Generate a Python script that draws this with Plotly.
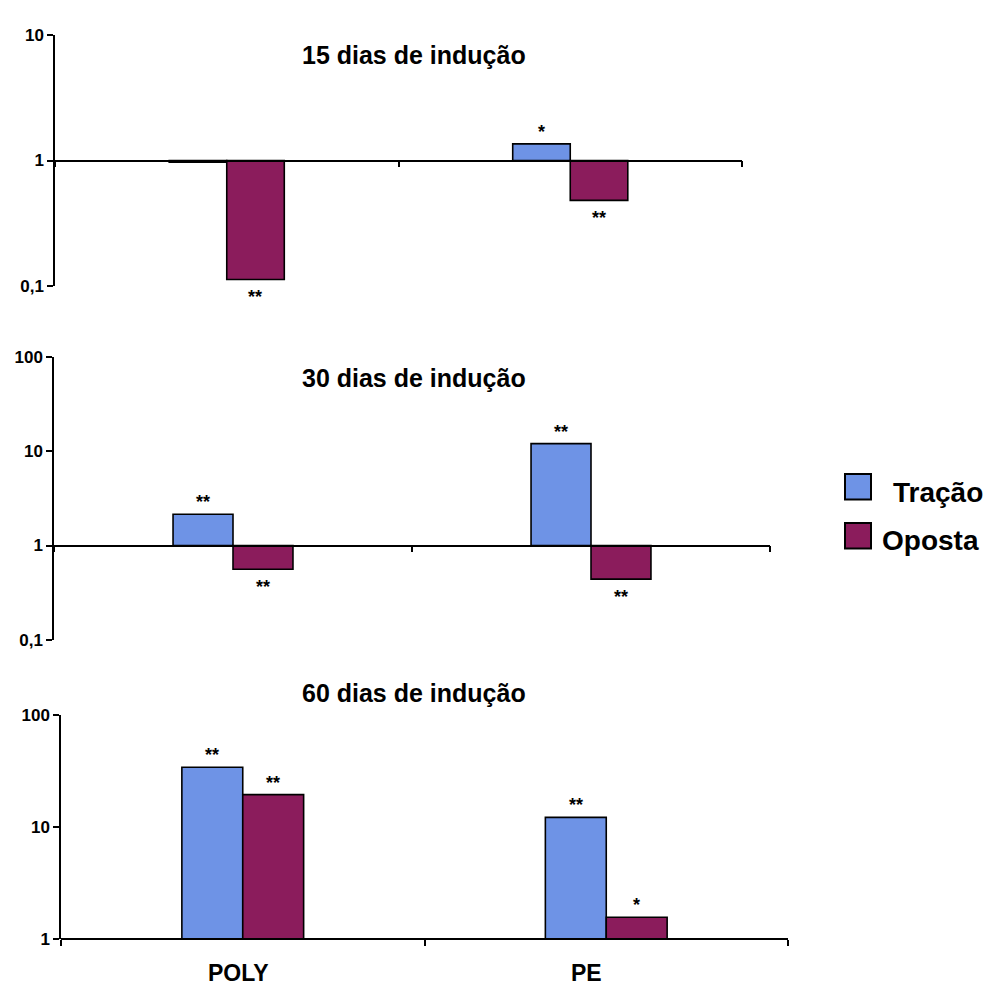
import math
import plotly.graph_objects as go

# ---- data -------------------------------------------------------------
categories = ["POLY", "PE"]

tracao_15 = [0.97, 1.36]
oposta_15 = [0.112, 0.48]
tracao_30 = [2.15, 12.1]
oposta_30 = [0.56, 0.44]
tracao_60 = [34.3, 12.2]
oposta_60 = [19.5, 1.56]

sig_tracao_15 = ["", "*"]
sig_oposta_15 = ["**", "**"]
sig_tracao_30 = ["**", "**"]
sig_oposta_30 = ["**", "**"]
sig_tracao_60 = ["**", "**"]
sig_oposta_60 = ["**", "*"]

titles = ["15 dias de indução", "30 dias de indução", "60 dias de indução"]
series_names = ["Tração", "Oposta"]

ytick_vals_15 = [0.1, 1, 10]
ytick_text_15 = ["0,1", "1", "10"]
ytick_vals_30 = [0.1, 1, 10, 100]
ytick_text_30 = ["0,1", "1", "10", "100"]
ytick_vals_60 = [1, 10, 100]
ytick_text_60 = ["1", "10", "100"]

# ---- style ------------------------------------------------------------
W, H = 993, 994
BLUE = "#6E93E6"
MAROON = "#8B1C5C"
FONT = "Liberation Sans"
BASE = 1.0  # fold-change baseline


def py(px):
    """pixel row -> paper y"""
    return 1 - px / H


def pxx(px):
    """pixel column -> paper x"""
    return px / W


# panel geometry: (x0, x1, y_top, y_bottom) in pixels, log range
panels = [
    dict(x=(55, 742), y=(27, 282), rng=[-1, 1], base_px=154.5,
         tv=ytick_vals_15, tt=ytick_text_15,
         tr=tracao_15, op=oposta_15, st=sig_tracao_15, so=sig_oposta_15,
         title_y=47, half=28.5),
    dict(x=(54, 770), y=(355, 643), rng=[-1, 2], base_px=547,
         tv=ytick_vals_30, tt=ytick_text_30,
         tr=tracao_30, op=oposta_30, st=sig_tracao_30, so=sig_oposta_30,
         title_y=376, half=30),
    dict(x=(61, 788), y=(720, 948), rng=[0, 2], base_px=948,
         tv=ytick_vals_60, tt=ytick_text_60,
         tr=tracao_60, op=oposta_60, st=sig_tracao_60, so=sig_oposta_60,
         title_y=697, half=30.5),
]

fig = go.Figure()
layout = dict(
    width=W, height=H,
    margin=dict(l=0, r=0, t=0, b=0),
    paper_bgcolor="white", plot_bgcolor="rgba(0,0,0,0)",
    barmode="group", bargap=0.665, bargroupgap=0,
    showlegend=False,
    font=dict(family=FONT, color="black"),
)
annotations = []
shapes = []

for i, p in enumerate(panels, start=1):
    xa = "x" if i == 1 else f"x{i}"
    ya = "y" if i == 1 else f"y{i}"
    xkey = "xaxis" if i == 1 else f"xaxis{i}"
    ykey = "yaxis" if i == 1 else f"yaxis{i}"

    for vals, name, color, sigs, sign in (
        (p["tr"], series_names[0], BLUE, p["st"], -1),
        (p["op"], series_names[1], MAROON, p["so"], 1),
    ):
        fig.add_trace(go.Bar(
            x=categories,
            y=[v - BASE for v in vals],
            base=BASE,
            name=name,
            marker=dict(color=color, line=dict(color="black", width=1.6)),
            xaxis=xa, yaxis=ya,
            hovertemplate=name + " %{x}: %{customdata}<extra></extra>",
            customdata=vals,
        ))
        # significance marks just beyond the end of each bar
        for cat, v, s in zip(categories, vals, sigs):
            if not s:
                continue
            up = v >= BASE
            annotations.append(dict(
                x=cat, y=math.log10(v), xref=xa, yref=ya,
                text=s, showarrow=False,
                xshift=sign * p["half"],
                yshift=12 if up else -18,
                xanchor="center", yanchor="middle",
                font=dict(family=FONT, size=18, color="black", weight="bold"),
            ))

    layout[xkey] = dict(
        domain=[pxx(p["x"][0]), pxx(p["x"][1])],
        type="category", range=[-0.5, 1.5],
        anchor="free", position=py(p["base_px"]),
        showline=True, linecolor="black", linewidth=1.5,
        ticks="outside", tickson="boundaries", ticklen=6,
        tickcolor="black", tickwidth=1.5,
        showticklabels=False, showgrid=False, zeroline=False,
        fixedrange=True,
    )
    layout[ykey] = dict(
        domain=[py(p["y"][1]), py(p["y"][0])],
        type="log", range=p["rng"],
        anchor=xa,
        showline=True, linecolor="black", linewidth=1.5,
        ticks="outside", ticklen=6, tickcolor="black", tickwidth=1.5,
        tickvals=p["tv"], ticktext=p["tt"],
        tickfont=dict(family=FONT, size=17, color="black", weight="bold"),
        showgrid=False, zeroline=False, fixedrange=True,
    )
    annotations.append(dict(
        x=pxx(414), y=py(p["title_y"]), xref="paper", yref="paper",
        text=titles[i - 1], showarrow=False,
        xanchor="center", yanchor="middle",
        font=dict(family=FONT, size=25, color="black", weight="bold"),
    ))

# category labels under the bottom panel
for cat, shift in zip(categories, [-4, -20]):
    annotations.append(dict(
        x=cat, y=py(983), xref="x3", yref="paper",
        text=cat, showarrow=False, xshift=shift,
        xanchor="center", yanchor="middle",
        font=dict(family=FONT, size=23, color="black", weight="bold"),
    ))

# legend keys
legend_rows = [
    (series_names[0], BLUE, 474, 500, 891, 493),
    (series_names[1], MAROON, 524, 550, 880, 542),
]
for name, color, top, bot, tx, ty in legend_rows:
    shapes.append(dict(
        type="rect", xref="paper", yref="paper",
        x0=pxx(845), x1=pxx(871), y0=py(bot), y1=py(top),
        fillcolor=color, line=dict(color="black", width=2),
    ))
    annotations.append(dict(
        x=pxx(tx), y=py(ty), xref="paper", yref="paper",
        text=name, showarrow=False, xanchor="left", yanchor="middle",
        font=dict(family=FONT, size=28, color="black", weight="bold"),
    ))

layout["annotations"] = annotations
layout["shapes"] = shapes
fig.update_layout(**layout)

fig.write_html("out.html")
